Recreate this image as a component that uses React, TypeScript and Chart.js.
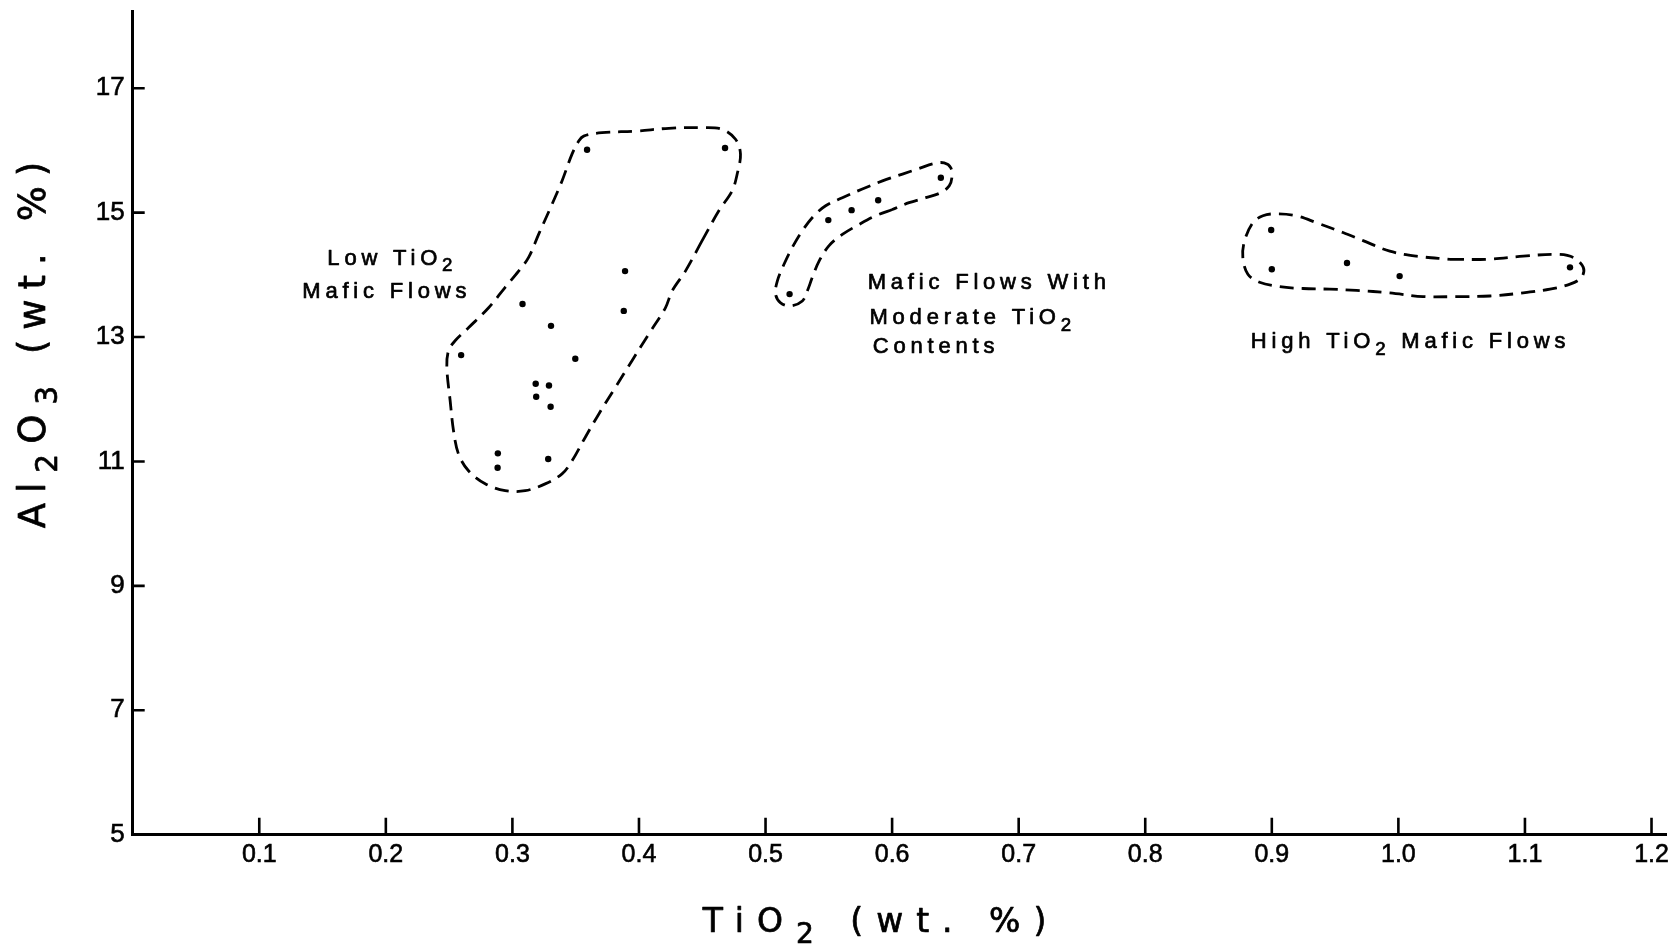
import React, { useEffect, useRef } from "react";
import { Chart, registerables } from "chart.js";

Chart.register(...registerables);

// ---- axis ticks ----
const xTickValues = [0.1, 0.2, 0.3, 0.4, 0.5, 0.6, 0.7, 0.8, 0.9, 1.0, 1.1, 1.2];
const xTickLabels = ["0.1", "0.2", "0.3", "0.4", "0.5", "0.6", "0.7", "0.8", "0.9", "1.0", "1.1", "1.2"];
const yTickValues = [5, 7, 9, 11, 13, 15, 17];
const yTickLabels = ["5", "7", "9", "11", "13", "15", "17"];

// ---- samples: [TiO2, Al2O3] ----
const lowTiO2Samples: [number, number][] = [
  [0.359, 16.01], [0.468, 16.04], [0.389, 14.06], [0.388, 13.42], [0.308, 13.53],
  [0.3305, 13.18], [0.3497, 12.65], [0.2595, 12.71], [0.3184, 12.25], [0.3289, 12.22],
  [0.3188, 12.04], [0.3302, 11.88], [0.2885, 11.13], [0.2883, 10.9], [0.3283, 11.04],
];
const moderateTiO2Samples: [number, number][] = [
  [0.6385, 15.56], [0.589, 15.2], [0.568, 15.04], [0.5496, 14.88], [0.519, 13.69],
];
const highTiO2Samples: [number, number][] = [
  [0.8995, 14.72], [0.9, 14.09], [0.9594, 14.19], [1.001, 13.98], [1.1356, 14.12],
];

// ---- hand-drawn envelopes (dashed) ----
const lowTiO2Envelope: [number, number][] = [
  [0.3563, 16.23], [0.3708, 16.285], [0.3972, 16.31], [0.4236, 16.356], [0.4499, 16.366],
  [0.4657, 16.34], [0.4763, 16.18], [0.4802, 15.94], [0.4776, 15.62], [0.4736, 15.35],
  [0.4631, 15.03], [0.4499, 14.55], [0.4367, 14.06], [0.4262, 13.74], [0.4209, 13.47],
  [0.4078, 13.05], [0.3945, 12.62], [0.3813, 12.19], [0.3682, 11.76], [0.3576, 11.39],
  [0.3471, 11.01], [0.3392, 10.8], [0.3259, 10.64], [0.3101, 10.53], [0.2943, 10.53],
  [0.2785, 10.64], [0.2653, 10.85], [0.2574, 11.12], [0.2535, 11.49], [0.2508, 11.98],
  [0.2482, 12.51], [0.2495, 12.78], [0.2547, 12.94], [0.2653, 13.15], [0.2812, 13.47],
  [0.2943, 13.8], [0.3049, 14.06], [0.3128, 14.28], [0.3207, 14.65], [0.3312, 15.13],
  [0.3392, 15.51], [0.3471, 15.94], [0.3524, 16.15],
];
const moderateTiO2Envelope: [number, number][] = [
  [0.6411, 15.8], [0.6464, 15.72], [0.6472, 15.56], [0.6451, 15.43], [0.6384, 15.32],
  [0.6266, 15.24], [0.6134, 15.16], [0.6002, 15.05], [0.587, 14.95], [0.5739, 14.81],
  [0.5607, 14.65], [0.5502, 14.47], [0.5423, 14.22], [0.537, 13.96], [0.533, 13.74],
  [0.5291, 13.58], [0.5198, 13.5], [0.5119, 13.55], [0.5079, 13.69], [0.5093, 13.9],
  [0.5146, 14.17], [0.5211, 14.44], [0.5291, 14.71], [0.5383, 14.95], [0.5475, 15.11],
  [0.5607, 15.24], [0.5765, 15.38], [0.5924, 15.51], [0.6082, 15.62], [0.6214, 15.71],
  [0.6332, 15.79],
];
const highTiO2Envelope: [number, number][] = [
  [0.9022, 14.98], [0.9193, 14.95], [0.9351, 14.84], [0.9562, 14.68], [0.9721, 14.55],
  [0.9932, 14.38], [1.0142, 14.3], [1.0407, 14.25], [1.0696, 14.25], [1.0986, 14.3],
  [1.125, 14.33], [1.1382, 14.28], [1.1461, 14.12], [1.1448, 13.96], [1.1356, 13.85],
  [1.1198, 13.77], [1.0986, 13.71], [1.0723, 13.66], [1.0459, 13.65], [1.0195, 13.65],
  [0.9932, 13.71], [0.9668, 13.75], [0.9457, 13.77], [0.9246, 13.78], [0.9062, 13.81],
  [0.8903, 13.88], [0.8811, 14.01], [0.8771, 14.28], [0.8785, 14.55], [0.8851, 14.84],
  [0.893, 14.95],
];

// ---- group labels (text parts: [text, isSubscript]) ----
type Part = [string, boolean];
const groupLabels: { parts: Part[]; x: number; y: number }[] = [
  { parts: [["Low TiO", false], ["2", true]], x: 0.1538, y: 14.16 },
  { parts: [["Mafic Flows", false]], x: 0.134, y: 13.63 },
  { parts: [["Mafic Flows With", false]], x: 0.5807, y: 13.78 },
  { parts: [["Moderate TiO", false], ["2", true]], x: 0.5821, y: 13.21 },
  { parts: [["Contents", false]], x: 0.5847, y: 12.74 },
  { parts: [["High TiO", false], ["2", true], [" Mafic Flows", false]], x: 0.8834, y: 12.82 },
];
const xTitleParts: Part[] = [["TiO", false], ["2", true], [" (wt. %)", false]];
const yTitleParts: Part[] = [["Al", false], ["2", true], ["O", false], ["3", true], [" (wt. %)", false]];

const toPts = (arr: [number, number][]) => arr.map(([x, y]) => ({ x, y }));
const closeLoop = (arr: [number, number][], start: number) =>
  toPts([...arr.slice(start), ...arr.slice(0, start), arr[start]]);

const SANS = "'Liberation Sans', Arial, Helvetica, sans-serif";
const WIDE = "'DejaVu Sans', Verdana, sans-serif";

function drawRich(
  ctx: CanvasRenderingContext2D,
  parts: Part[],
  x: number,
  y: number,
  size: number,
  spacing: number,
  family: string,
  center: boolean,
  subScale: number,
  subDrop: number,
  stroke: number
) {
  (ctx as any).letterSpacing = spacing + "px";
  const widths = parts.map(([t, sub]) => {
    ctx.font = `${sub ? size * subScale : size}px ${family}`;
    return ctx.measureText(t).width;
  });
  const total = widths.reduce((a, b) => a + b, 0);
  let cx = center ? x - total / 2 : x;
  ctx.lineWidth = stroke;
  ctx.lineJoin = "round";
  parts.forEach(([t, sub], i) => {
    ctx.font = `${sub ? size * subScale : size}px ${family}`;
    const ty = sub ? y + size * subDrop : y;
    ctx.fillText(t, cx, ty);
    if (stroke > 0) ctx.strokeText(t, cx, ty);
    cx += widths[i];
  });
}

const decorPlugin = {
  id: "decor",
  afterDraw(chart: any) {
    const ctx: CanvasRenderingContext2D = chart.ctx;
    const xs = chart.scales.x;
    const ys = chart.scales.y;
    const area = chart.chartArea;
    ctx.save();
    // inward tick marks
    ctx.strokeStyle = "#000";
    ctx.lineWidth = 2.6;
    ctx.beginPath();
    xTickValues.forEach((v) => {
      const px = xs.getPixelForValue(v);
      ctx.moveTo(px, area.bottom);
      ctx.lineTo(px, area.bottom - 17);
    });
    yTickValues.forEach((v) => {
      const py = ys.getPixelForValue(v);
      ctx.moveTo(area.left, py);
      ctx.lineTo(area.left + 12, py);
    });
    ctx.stroke();

    // group labels
    ctx.fillStyle = "#000";
    ctx.strokeStyle = "#000";
    ctx.textAlign = "left";
    ctx.textBaseline = "alphabetic";
    groupLabels.forEach((l) => {
      drawRich(ctx, l.parts, xs.getPixelForValue(l.x), ys.getPixelForValue(l.y), 22, 4.8, SANS, false, 0.85, 0.3, 0.7);
    });

    // axis titles
    drawRich(ctx, xTitleParts, 881, 932, 33, 13, WIDE, true, 0.85, 0.33, 0.7);
    ctx.translate(45, 340);
    ctx.rotate(-Math.PI / 2);
    drawRich(ctx, yTitleParts, 0, 0, 37, 10, WIDE, true, 0.8, 0.33, 0.7);
    ctx.restore();
  },
};

const pointStyle = {
  showLine: false,
  pointRadius: 3.2,
  pointBackgroundColor: "#000",
  pointBorderWidth: 0,
};
const envelopeStyle = {
  showLine: true,
  pointRadius: 0,
  borderColor: "#000",
  borderWidth: 2.8,
  borderDash: [14, 8],
  tension: 0.35,
  fill: false,
};

export default function App() {
  const ref = useRef<HTMLCanvasElement | null>(null);
  useEffect(() => {
    document.body.style.margin = "0";
    const canvas = ref.current;
    if (!canvas) return;
    const chart = new Chart(canvas, {
      type: "scatter",
      data: {
        datasets: [
          { label: "Low TiO2 envelope", data: closeLoop(lowTiO2Envelope, 11), ...envelopeStyle },
          { label: "Moderate TiO2 envelope", data: closeLoop(moderateTiO2Envelope, 7), ...envelopeStyle },
          { label: "High TiO2 envelope", data: closeLoop(highTiO2Envelope, 7), ...envelopeStyle },
          { label: "Low TiO2 Mafic Flows", data: toPts(lowTiO2Samples), ...pointStyle },
          { label: "Mafic Flows With Moderate TiO2", data: toPts(moderateTiO2Samples), ...pointStyle },
          { label: "High TiO2 Mafic Flows", data: toPts(highTiO2Samples), ...pointStyle },
        ] as any,
      },
      options: {
        animation: false,
        responsive: false,
        devicePixelRatio: 1,
        events: [],
        layout: { padding: { left: 0, right: 10.3, top: 11.7, bottom: 0 } },
        plugins: { legend: { display: false }, tooltip: { enabled: false } },
        scales: {
          x: {
            type: "linear",
            position: "bottom",
            min: 0,
            max: 1.212,
            grid: { display: false, drawTicks: false },
            border: { display: true, color: "#000", width: 3 },
            afterBuildTicks: (s: any) => {
              s.ticks = xTickValues.map((v) => ({ value: v }));
            },
            afterFit: (s: any) => {
              s.height = 115.3;
              s.paddingLeft = 0;
              s.paddingRight = 0;
            },
            ticks: {
              autoSkip: false,
              maxRotation: 0,
              padding: 5,
              color: "#000",
              textStrokeColor: "#000",
              textStrokeWidth: 0.6,
              font: { family: SANS, size: 25 },
              callback: (_v: any, i: number) => xTickLabels[i],
            },
          },
          y: {
            type: "linear",
            position: "left",
            min: 5,
            max: 18.23,
            grid: { display: false, drawTicks: false },
            border: { display: true, color: "#000", width: 3 },
            afterBuildTicks: (s: any) => {
              s.ticks = yTickValues.map((v) => ({ value: v }));
            },
            afterFit: (s: any) => {
              s.width = 132.7;
              s.paddingTop = 0;
              s.paddingBottom = 0;
            },
            ticks: {
              autoSkip: false,
              padding: 8,
              color: "#000",
              textStrokeColor: "#000",
              textStrokeWidth: 0.6,
              font: { family: SANS, size: 26 },
              callback: (_v: any, i: number) => yTickLabels[i],
            },
          },
        },
      } as any,
      plugins: [decorPlugin],
    });
    return () => chart.destroy();
  }, []);
  return (
    <div style={{ width: 1677, height: 950, background: "#fff" }}>
      <canvas ref={ref} width={1677} height={950} style={{ width: 1677, height: 950, display: "block" }} />
    </div>
  );
}
